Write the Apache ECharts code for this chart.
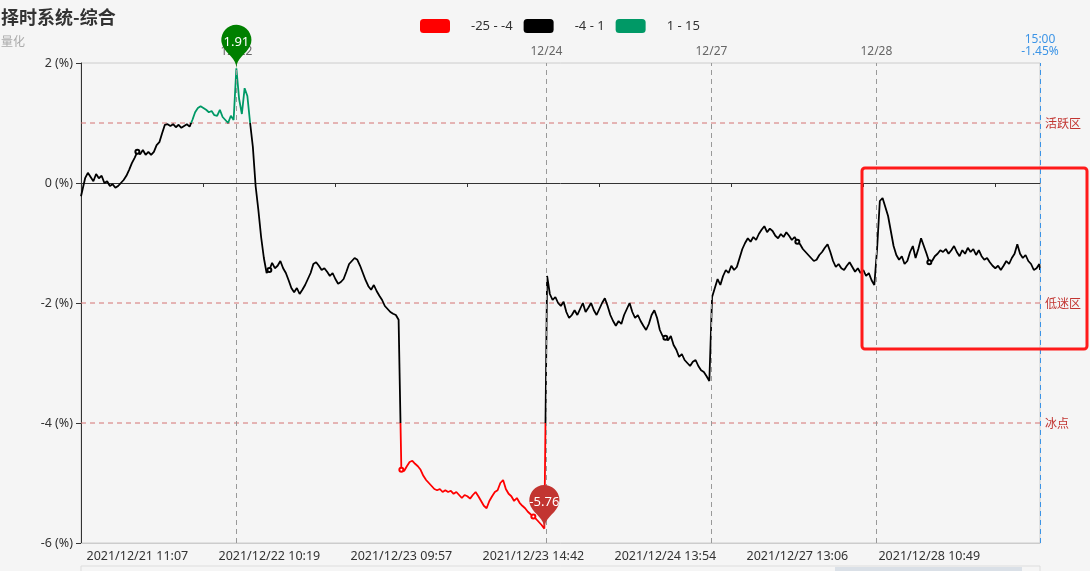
<!DOCTYPE html>
<html><head><meta charset="utf-8">
<script src="https://cdn.jsdelivr.net/npm/echarts/dist/echarts.min.js"></script>
<style>html,body{margin:0;padding:0;background:#f5f5f5}#c{width:1090px;height:571px}</style>
</head><body><div id="c"></div>
<script>
// Trading sessions (category generation)
const sessions = [
  ['2021/12/21', [['09:45','11:30'],['13:01','15:00']]],
  ['2021/12/22', [['09:31','11:30'],['13:01','15:00']]],
  ['2021/12/23', [['09:57','11:30'],['13:04','15:00']]],
  ['2021/12/24', [['09:31','11:30'],['13:01','15:00']]],
  ['2021/12/27', [['09:31','11:30'],['13:01','15:00']]],
  ['2021/12/28', [['09:32','11:30'],['13:01','15:00']]]
];
const tickLabels = ['2021/12/21 11:07','2021/12/22 10:19','2021/12/23 09:57','2021/12/23 14:42','2021/12/24 13:54','2021/12/27 13:06','2021/12/28 10:49'];
const dayMarkLabels = ['12/22','12/24','12/27','12/28'];

// values (%), per day
const d1221 = [-0.22,-0.12,0.08,0.17,0.1,0.03,0.15,0.08,0.12,0.0,0.03,-0.05,-0.02,-0.08,-0.05,0.0,0.05,0.12,0.22,0.33,0.42,0.52,0.48,0.55,0.47,0.52,0.47,0.52,0.63,0.68,0.83,0.97,0.98,0.95,0.98,0.93,0.97,0.92,0.95,0.98,0.94,1.05,1.18,1.25,1.28,1.25,1.22,1.18,1.2,1.13,1.12,1.22,1.1,1.05,1.0,1.12,1.05];
const d1222 = [1.91,1.4,1.15,1.58,1.45,1.0,0.6,-0.05,-0.45,-0.9,-1.25,-1.5,-1.45,-1.33,-1.42,-1.38,-1.3,-1.42,-1.5,-1.62,-1.75,-1.82,-1.75,-1.85,-1.78,-1.7,-1.6,-1.5,-1.35,-1.32,-1.38,-1.45,-1.42,-1.48,-1.55,-1.5,-1.6,-1.68,-1.65,-1.6,-1.48,-1.35,-1.3,-1.25,-1.28,-1.38,-1.5,-1.62,-1.72,-1.78,-1.7,-1.8,-1.88,-1.95,-2.05,-2.1,-2.15,-2.18,-2.2,-2.28];
const d1223 = [-4.78,-4.8,-4.72,-4.65,-4.63,-4.68,-4.72,-4.78,-4.88,-4.95,-5.0,-5.05,-5.1,-5.12,-5.1,-5.15,-5.12,-5.15,-5.13,-5.18,-5.15,-5.2,-5.25,-5.2,-5.22,-5.26,-5.2,-5.15,-5.22,-5.3,-5.38,-5.42,-5.3,-5.22,-5.15,-5.12,-5.0,-4.95,-5.1,-5.18,-5.22,-5.3,-5.25,-5.33,-5.38,-5.42,-5.48,-5.52,-5.56,-5.6,-5.65,-5.7,-5.76];
const d1224 = [-1.55,-1.85,-1.95,-1.9,-2.0,-2.05,-1.98,-2.15,-2.25,-2.2,-2.12,-2.2,-2.1,-2.0,-2.15,-2.08,-2.0,-2.12,-2.2,-2.1,-2.0,-1.92,-2.05,-2.2,-2.3,-2.38,-2.3,-2.35,-2.2,-2.1,-2.0,-2.15,-2.25,-2.2,-2.3,-2.38,-2.45,-2.35,-2.2,-2.12,-2.25,-2.45,-2.55,-2.58,-2.62,-2.55,-2.7,-2.78,-2.9,-2.85,-2.95,-3.0,-3.05,-2.98,-2.95,-3.05,-3.12,-3.15,-3.22,-3.3];
const d1227 = [-1.9,-1.75,-1.6,-1.7,-1.55,-1.45,-1.5,-1.38,-1.45,-1.4,-1.25,-1.1,-1.0,-0.92,-0.98,-0.9,-0.95,-0.85,-0.78,-0.72,-0.82,-0.76,-0.8,-0.88,-0.92,-0.85,-0.9,-0.82,-0.88,-0.95,-0.9,-0.98,-1.02,-1.1,-1.15,-1.2,-1.25,-1.3,-1.28,-1.2,-1.15,-1.08,-1.02,-1.15,-1.3,-1.4,-1.35,-1.42,-1.45,-1.38,-1.32,-1.4,-1.48,-1.42,-1.5,-1.45,-1.55,-1.5,-1.62,-1.7];
const d1228 = [-1.1,-0.3,-0.25,-0.4,-0.55,-0.8,-1.05,-1.2,-1.28,-1.22,-1.35,-1.3,-1.15,-1.05,-1.25,-1.1,-0.92,-1.05,-1.18,-1.32,-1.3,-1.22,-1.18,-1.12,-1.15,-1.1,-1.18,-1.12,-1.05,-1.15,-1.22,-1.12,-1.18,-1.08,-1.15,-1.1,-1.2,-1.12,-1.22,-1.28,-1.25,-1.32,-1.38,-1.42,-1.38,-1.45,-1.38,-1.3,-1.35,-1.25,-1.18,-1.02,-1.18,-1.25,-1.2,-1.3,-1.35,-1.45,-1.42,-1.35,-1.45];
const dayValues = [d1221, d1222, d1223, d1224, d1227, d1228];

const pieces = [
  {min: -25, max: -4, color: '#ff0000'},
  {min: -4, max: 1, color: '#000000'},
  {min: 1, max: 15, color: '#009966'}
];
const zoneLevels = [1, -2, -4];
const zoneNames = ['活跃区', '低迷区', '冰点'];
const yTicks = {min: -6, max: 2, interval: 2};

// ---- build categories ----
function toMin(s){const p=s.split(':');return (+p[0])*60+(+p[1]);}
function fmt(m){const h=Math.floor(m/60),mm=m%60;return (h<10?'0':'')+h+':'+(mm<10?'0':'')+mm;}
const categories=[], dayStart=[], dayEnd=[];
sessions.forEach(function(s){
  dayStart.push(categories.length);
  s[1].forEach(function(r){for(let m=toMin(r[0]);m<=toMin(r[1]);m++) categories.push(s[0]+' '+fmt(m));});
  dayEnd.push(categories.length-1);
});
const N = categories.length;
const seriesData = [];
dayValues.forEach(function(vals,d){
  const idx=[];
  for(let i=dayStart[d];i<=dayEnd[d];i++){ if(i%4===2||i===0||i===N-1) idx.push(i); }
  vals.forEach(function(v,j){ if(j<idx.length) seriesData.push([idx[j], v]); });
});
const labelSet = new Set(tickLabels);
const lastVal = seriesData[seriesData.length-1][1];
const lastCat = categories[N-1];

const dayMarks = [];
sessions.forEach(function(s,d){
  const lab = s[0].slice(5);
  if (dayMarkLabels.indexOf(lab) >= 0) {
    dayMarks.push({xAxis: categories[dayStart[d]], lineStyle:{color:'#999', type:[5, 4], width:1},
      label:{formatter: lab, color:'#666', fontSize:12, position:'end', distance:5}});
  }
});
dayMarks.push({xAxis: lastCat, lineStyle:{color:'#3c94e6', type:[5, 4], width:1},
  label:{formatter: lastCat.slice(-5) + '\n' + lastVal.toFixed(2) + '%', color:'#3c94e6', fontSize:12, lineHeight:12, position:'end', distance:5}});

const zoneSeries = zoneLevels.map(function(v, k){
  return {type: 'line', name: zoneNames[k], xAxisIndex: 0, yAxisIndex: 0, z: 1, silent: true,
    data: [[0, v], [N - 1, v]], symbol: 'none',
    lineStyle: {color: '#d47272', type: [5, 4], width: 1},
    endLabel: {show: true, formatter: zoneNames[k], color: '#c23531', fontSize: 12, distance: 5,
      fontFamily: "'Noto Sans CJK SC',sans-serif"}};
});

const FONT = "'Noto Sans','Noto Sans CJK SC',sans-serif";
const chart = echarts.init(document.getElementById('c'));
chart.setOption({
  animation: false,
  backgroundColor: '#f5f5f5',
  textStyle: {fontFamily: FONT},
  title: {text: '择时系统-综合', subtext: '量化', left: -4, top: 3, itemGap: 9,
    textStyle: {fontSize: 18, fontWeight: 'bold', color: '#333', fontFamily: "'Noto Sans CJK SC',sans-serif"},
    subtextStyle: {fontSize: 12, color: '#aaa', fontFamily: "'Noto Sans CJK SC',sans-serif"}},
  visualMap: {type: 'piecewise', orient: 'horizontal', left: 405, top: 4,
    itemWidth: 30, itemHeight: 14, itemGap: 11, textGap: 21,
    pieces: pieces, textStyle: {color: '#333', fontSize: 13}, seriesIndex: 0},
  grid: {left: 81, right: 50, top: 63, bottom: 28, show: true, borderColor: '#ccc', borderWidth: 1,
    backgroundColor: 'transparent', containLabel: false, outerBoundsMode: 'none'},
  xAxis: [
    {type: 'category', data: categories, boundaryGap: false, position: 'bottom',
      axisLine: {onZero: false, lineStyle: {color: '#ccc'}},
      axisTick: {show: false},
      axisLabel: {interval: function(i, v){ return labelSet.has(v); }, color: '#333', fontSize: 12.5, margin: 7},
      splitLine: {show: false}},
    {type: 'category', data: categories, boundaryGap: false, position: 'top',
      axisLine: {onZero: true, lineStyle: {color: '#333', width: 1}},
      axisTick: {show: true, inside: true, length: 4, lineStyle: {color: '#333'},
        interval: function(i){ return i >= 178 && (i - 178) % 192 === 0; }},
      axisLabel: {show: false}, splitLine: {show: false}}
  ],
  yAxis: {type: 'value', min: yTicks.min, max: yTicks.max, interval: yTicks.interval,
    axisLine: {show: true, lineStyle: {color: '#333'}},
    axisTick: {show: true, length: 5, lineStyle: {color: '#333'}},
    axisLabel: {formatter: '{value} (%)', color: '#333', fontSize: 12.5, margin: 8},
    splitLine: {show: false}},
  series: [{
    type: 'line', xAxisIndex: 0, yAxisIndex: 0, data: seriesData, z: 3,
    symbol: 'emptyCircle', symbolSize: 4, showAllSymbol: 'auto',
    lineStyle: {width: 1.8}, itemStyle: {color: '#000', borderWidth: 1},
    markPoint: {z: 10, symbol: 'pin', symbolSize: 50,
      label: {color: '#fff', fontSize: 13},
      data: [
        {type: 'max', name: 'max', itemStyle: {color: '#008000'}},
        {type: 'min', name: 'min', itemStyle: {color: '#c23531'}}
      ]},
    markLine: {silent: true, symbol: ['none', 'none'], data: dayMarks}
  }].concat(zoneSeries),
  graphic: [
    {type: 'rect', z: 100, shape: {x: 862, y: 168, width: 225, height: 181, r: 3},
      style: {fill: 'none', stroke: '#ff1a1a', lineWidth: 3}},
    {type: 'rect', z: 1, shape: {x: 81, y: 566, width: 959, height: 20},
      style: {fill: 'none', stroke: '#dddddd', lineWidth: 1}},
    {type: 'rect', z: 1, shape: {x: 835, y: 567, width: 187, height: 10},
      style: {fill: 'rgba(170,185,205,0.35)'}}
  ]
});
</script></body></html>
